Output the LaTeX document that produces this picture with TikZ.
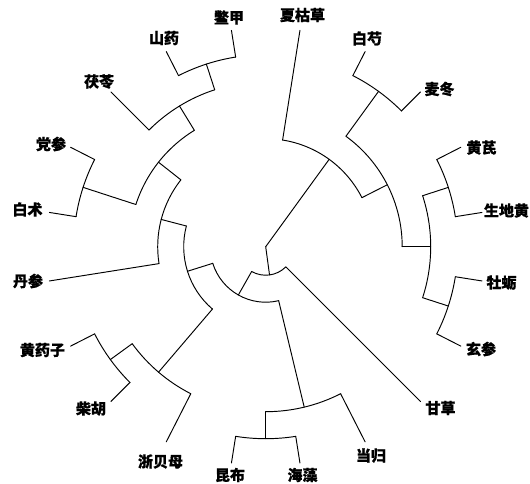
\documentclass[tikz,border=0pt]{standalone}
\usepackage{fontspec}
\newfontfamily\cjk[FakeBold=0.7]{Noto Sans CJK SC}
\begin{document}
\begin{tikzpicture}[x=1pt,y=1pt,
  br/.style={draw=black,line width=0.95pt,line cap=round},
  lbl/.style={font=\cjk\bfseries\fontsize{15}{18}\selectfont,inner sep=0pt}]
\useasboundingbox (-265.7,-236.3) rectangle (264.3,246.7);
\coordinate (root) at (0,0);
% leaves: name / angle / radius of parent arc
\foreach \n/\a/\p in {sdh/9/192, hq/27/192, md/45/192, bs/63/192, xkc/81/108,
  bj/99/192, sy/117/192, fl/135/165, dsh/153/192, bz/171/192, dans/189/108,
  hyz/207/192, ch/225/192, zbm/243/165, kb/261/192, hz/279/192, dg/297/165,
  gc/315/28.5, xs/333/192, ml/351/192}{
  \coordinate (t-\n) at (\a:219);
  \coordinate (f-\n) at (\a:\p);
  \draw[br] (f-\n) -- (t-\n);
}
% internal nodes: name / angle / radius / parent radius
\foreach \n/\a/\r/\p in {n1/108/192/165, q/121.5/165/136.5, n2/162/192/136.5,
  p/141.75/136.5/108, dsn/165.375/108/82, n3/216/192/165, b/229.5/165/82,
  a1a/197.4375/82/55.5, n4/270/192/165, c/283.5/165/55.5,
  a1/240.46875/55.5/28.5, a/277.734/28.5/0, n5/54/192/136.5, n6/18/192/165,
  n7/342/192/165, f/0/165/136.5, e/27/136.5/108, d/54/108/0}{
  \coordinate (i-\n) at (\a:\r);
  \coordinate (f-\n) at (\a:\p);
  \draw[br] (f-\n) -- (i-\n);
}
% arcs of internal nodes: start child / start angle / end angle / radius
\foreach \s/\a/\b/\r in {bj/99/117/192, n1/108/135/165, dsh/153/171/192,
  q/121.5/162/136.5, p/141.75/189/108, hyz/207/225/192, n3/216/243/165,
  dsn/165.375/229.5/82, kb/261/279/192, n4/270/297/165,
  a1a/197.4375/283.5/55.5, a1/240.46875/315/28.5, md/45/63/192,
  sdh/9/27/192, xs/-27/-9/192, n7/-18/18/165, f/0/54/136.5, e/27/81/108}{
  \draw[br] (f-\s) arc[start angle=\a, end angle=\b, radius=\r];
}
% labels
\node[lbl] (l-xkc) at (36.8,231.7) {夏枯草};
\node[lbl] (l-bs) at (101.3,208.2) {白芍};
\node[lbl] (l-md) at (173.8,157.7) {麦冬};
\node[lbl] (l-hq) at (215.8,99.2) {黄芪};
\node[lbl] (l-sdh) at (240.8,36.2) {生地黄};
\node[lbl] (l-ml) at (235.8,-35.8) {牡蛎};
\node[lbl] (l-xs) at (215.3,-102.3) {玄参};
\node[lbl] (l-gc) at (174.8,-161.3) {甘草};
\node[lbl] (l-dg) at (105.3,-208.8) {当归};
\node[lbl] (l-hz) at (36.8,-228.3) {海藻};
\node[lbl] (l-kb) at (-35.7,-228.3) {昆布};
\node[lbl] (l-zbm) at (-105.2,-214.8) {浙贝母};
\node[lbl] (l-ch) at (-174.7,-161.8) {柴胡};
\node[lbl] (l-hyz) at (-223.2,-103.3) {黄药子};
\node[lbl] (l-dans) at (-237.7,-34.3) {丹参};
\node[lbl] (l-bz) at (-238.2,37.2) {白术};
\node[lbl] (l-dsh) at (-214.7,102.7) {党参};
\node[lbl] (l-fl) at (-166.7,165.2) {茯苓};
\node[lbl] (l-sy) at (-101.7,208.7) {山药};
\node[lbl] (l-bj) at (-36.7,229.2) {鳖甲};
\end{tikzpicture}
\end{document}
